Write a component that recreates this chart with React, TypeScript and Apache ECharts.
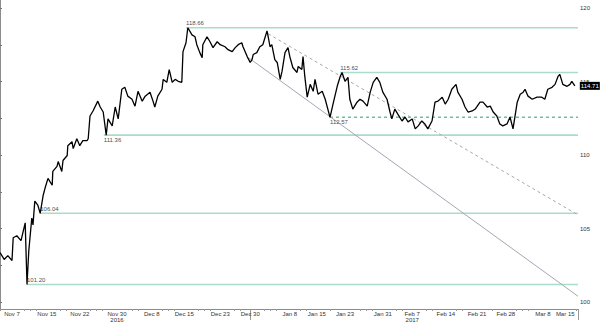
import React, { useEffect, useRef } from "react";
import * as echarts from "echarts";

// trading-day index from Nov 3 2016 (fractional = intraday)
const priceDays = [
  0, 0.7, 1.3, 2, 2.2, 2.8, 3.5, 4.2, 4.5, 4.8, 5.3, 5.5, 5.8, 6.3, 6.7, 7.2, 7.5, 8, 8.7, 8.8,
  9.5, 9.7, 10.3, 10.5, 11.2, 11.3, 12, 12.2, 12.8, 13.3, 13.8, 14.5, 14.7, 15, 15.5, 16.3, 16.7, 17.2, 17.7, 18,
  18.7, 19.2, 19.7, 20.3, 20.8, 21.3, 22, 22.5, 23, 23.7, 24.2, 25, 25.5, 25.8, 26.3, 27, 27.2, 27.8, 28.2, 28.7,
  29.2, 29.7, 30.3, 30.5, 31, 31.3, 32, 32.5, 32.8, 33.3, 33.7, 33.8, 34.5, 35, 35.5, 36.2, 36.7, 37.5, 38, 38.7,
  39.2, 39.7, 40.3, 40.5, 41.2, 41.7, 42, 42.2, 42.8, 43.3, 43.8, 44.5, 44.7, 45, 45.3, 45.8, 46.2, 46.7, 47, 47.5,
  48, 48.3, 48.8, 49.5, 49.7, 50.3, 50.5, 50.8, 51.2, 51.7, 52.2, 52.5, 53, 53.7, 54.2, 55, 55.5, 56.2, 56.7, 57,
  57.5, 58, 58.3, 58.8, 59.5, 60, 60.5, 61.2, 61.7, 62.2, 62.8, 63.3, 63.8, 64.5, 65, 65.3, 65.8, 66.3, 67, 67.5,
  68, 68.7, 69.2, 69.7, 70.3, 70.8, 71.3, 72, 72.5, 73, 73.7, 74.2, 74.7, 75.3, 76, 76.3, 77, 77.5, 78, 78.7,
  79.2, 80, 80.5, 81.2, 81.7, 82.2, 82.8, 83.3, 83.8, 84.5, 85, 85.5, 86.2, 86.7, 87.2, 87.5, 88, 88.7, 89.5, 90.3,
  90.8, 91.3, 92, 92.5, 93, 93.3, 93.8, 94.5, 95, 95.3, 95.8,
];
const prices = [
  103.37, 102.9, 103.16, 102.83, 104.38, 104.51, 104.18, 105.39, 101.2, 103.5, 105.72, 105.25, 106.87, 106.6, 106.04, 107.27, 107.74, 108.42, 107.95, 108.89,
  109.23, 109.56, 108.89, 109.63, 109.97, 110.64, 110.91, 110.44, 111.11, 110.64, 110.98, 110.98, 111.11, 112.66, 113.0, 113.67, 113.27, 112.93, 111.36, 112.46,
  111.99, 113.27, 112.46, 114.48, 114.61, 114.01, 113.8, 113.33, 114.34, 113.67, 114.01, 114.28, 113.67, 113.27, 114.01, 114.48, 115.15, 114.95, 115.82, 114.95,
  115.15, 115.02, 114.95, 117.04, 117.64, 118.66, 118.18, 118.05, 117.51, 116.97, 116.63, 117.51, 118.05, 117.71, 117.31, 117.71, 117.51, 117.37, 117.17, 117.04,
  117.31, 117.51, 117.64, 117.37, 116.7, 116.3, 116.5, 116.84, 116.97, 117.37, 117.51, 118.45, 118.05, 117.37, 117.51, 116.5, 116.3, 115.15, 115.69, 116.97,
  117.31, 116.7, 115.96, 115.62, 116.03, 115.82, 116.7, 115.35, 113.94, 114.81, 114.34, 115.15, 114.14, 114.34, 113.8, 112.57, 113.47, 114.68, 115.35, 115.62,
  115.02, 115.29, 113.8, 113.13, 113.6, 113.8, 113.67, 113.33, 114.28, 114.95, 115.29, 114.95, 114.28, 113.8, 112.93, 112.46, 113.13, 112.79, 112.32, 112.59,
  112.26, 112.46, 111.78, 111.99, 112.32, 112.12, 111.78, 112.32, 113.6, 113.67, 113.94, 113.47, 113.8, 114.48, 114.81, 114.28, 113.8, 113.27, 112.93, 113.0,
  113.13, 113.6, 113.6, 113.27, 113.33, 112.93, 112.66, 112.12, 111.99, 112.12, 112.59, 111.78, 113.6, 114.14, 114.28, 114.48, 114.01, 113.8, 113.94, 113.94,
  113.8, 114.48, 114.61, 114.81, 115.35, 115.49, 114.81, 114.68, 114.81, 115.02, 114.71,
];

const xLabelDays = [2, 7.8, 13.3, 19.5, 25.3, 30.7, 36.7, 41.7, 48.3, 52.8, 57.5, 63.8, 68.7, 74.3, 79.5, 84.3, 90.5, 94.2];
const xLabels = [
  "Nov 7", "Nov 15", "Nov 22", "Nov 30\n2016", "Dec 8", "Dec 15", "Dec 23", "Dec 30", "Jan 8",
  "Jan 15", "Jan 23", "Jan 31", "Feb 7\n2017", "Feb 14", "Feb 21", "Feb 28", "Mar 8", "Mar 15",
];
const xMax = 96.33;
const dividerDays = [41.7, 96.33];

const yLabelValues = [100, 105, 110, 115, 120];
const yTickValues = [100, 102.5, 105, 107.5, 110, 112.5, 115, 117.5, 120];

const levelValues = [118.66, 115.62, 112.57, 111.36, 106.04, 101.2];
const levelStartDays = [31, 56.7, 55, 17.3, 6.7, 4.5];
const levelLabelSide = ["top", "top", "bottom", "bottom", "top", "top"];
const levelDashed = [false, false, true, false, false, false];

const supportDays = [41.5, 96.33];
const supportValues = [116.6, 100.4];
const resistDays = [44.7, 96.33];
const resistValues = [118.25, 105.93];

const lastPrice = 114.71;

export default function App() {
  const ref = useRef<HTMLDivElement>(null);
  useEffect(() => {
    if (!ref.current) return;
    const chart = echarts.init(ref.current, undefined, { renderer: "svg" });
    const tickDays: number[] = [];
    for (let d = 0; d <= 96; d++) {
      if (xLabelDays.every((l) => Math.abs(l - d) > 1.6)) tickDays.push(d);
    }
    const levelSeries = levelValues.map((v, i) => ({
      type: "line",
      silent: true,
      symbol: "none",
      data: [
        [levelStartDays[i], v],
        [xMax, v],
      ],
      lineStyle: {
        color: levelDashed[i] ? "#6fbf9f" : "#aadccb",
        width: levelDashed[i] ? 1.4 : 1.6,
        type: levelDashed[i] ? [3, 3] : "solid",
      },
      z: 1,
    }));
    const lastDay = priceDays[priceDays.length - 1];
    chart.setOption({
      animation: false,
      textStyle: { fontFamily: "Liberation Sans" },
      grid: { left: 0, right: 22, top: 0, bottom: 11 },
      xAxis: [
        {
          type: "value",
          min: 0,
          max: xMax,
          axisLine: { show: true, lineStyle: { color: "#8c8c8c", width: 1 } },
          splitLine: { show: false },
          axisTick: { show: true, customValues: tickDays, length: 2, lineStyle: { color: "#999" } },
          axisLabel: {
            customValues: xLabelDays,
            fontSize: 6,
            color: "#333",
            margin: 2,
            lineHeight: 6,
            formatter: (v: number) => {
              const i = xLabelDays.findIndex((d) => Math.abs(d - v) < 1e-6);
              return i >= 0 ? xLabels[i] : "";
            },
          },
        },
        {
          type: "value",
          min: 0,
          max: xMax,
          position: "bottom",
          axisLine: { show: false },
          splitLine: { show: false },
          axisLabel: { show: false },
          axisTick: { show: true, customValues: dividerDays, length: 11, lineStyle: { color: "#999" } },
        },
      ],
      yAxis: {
        type: "value",
        position: "right",
        min: 99.53,
        max: 120.55,
        axisLine: { show: true, lineStyle: { color: "#8c8c8c", width: 1 } },
        splitLine: { show: false },
        axisTick: { show: true, customValues: yTickValues, length: 2, lineStyle: { color: "#777" } },
        axisLabel: { customValues: yLabelValues, fontSize: 6, color: "#333", margin: 2 },
      },
      series: [
        ...levelSeries,
        {
          type: "line",
          silent: true,
          symbol: "none",
          data: supportDays.map((d, i) => [d, supportValues[i]]),
          lineStyle: { color: "#a6a6b4", width: 1 },
          z: 2,
        },
        {
          type: "line",
          silent: true,
          symbol: "none",
          data: resistDays.map((d, i) => [d, resistValues[i]]),
          lineStyle: { color: "#a6a6b4", width: 1, type: [3, 3] },
          z: 2,
        },
        {
          type: "scatter",
          silent: true,
          symbol: "circle",
          symbolSize: 1,
          itemStyle: { color: "rgba(0,0,0,0)" },
          data: levelValues.map((v, i) => ({
            value: [levelStartDays[i], v],
            label: {
              show: true,
              position: levelLabelSide[i],
              align: "left",
              distance: 1,
              fontSize: 6,
              color: "#111",
              formatter: v.toFixed(2),
            },
          })),
          z: 4,
        },
        {
          type: "line",
          silent: true,
          symbol: "none",
          data: priceDays.map((d, i) => [d, prices[i]]),
          lineStyle: { color: "#000", width: 1.3 },
          z: 5,
          markPoint: {
            silent: true,
            symbol: "rect",
            symbolSize: [20, 8],
            symbolOffset: [15, 0],
            itemStyle: { color: "#000" },
            label: { show: true, position: "inside", color: "#fff", fontSize: 6, formatter: lastPrice.toFixed(2) },
            data: [{ coord: [lastDay, lastPrice], value: lastPrice }],
          },
        },
      ],
    });
    return () => chart.dispose();
  }, []);
  return (
    <div
      ref={ref}
      style={{ position: "absolute", left: 0, top: 0, width: 600, height: 323, background: "#fff" }}
    />
  );
}
